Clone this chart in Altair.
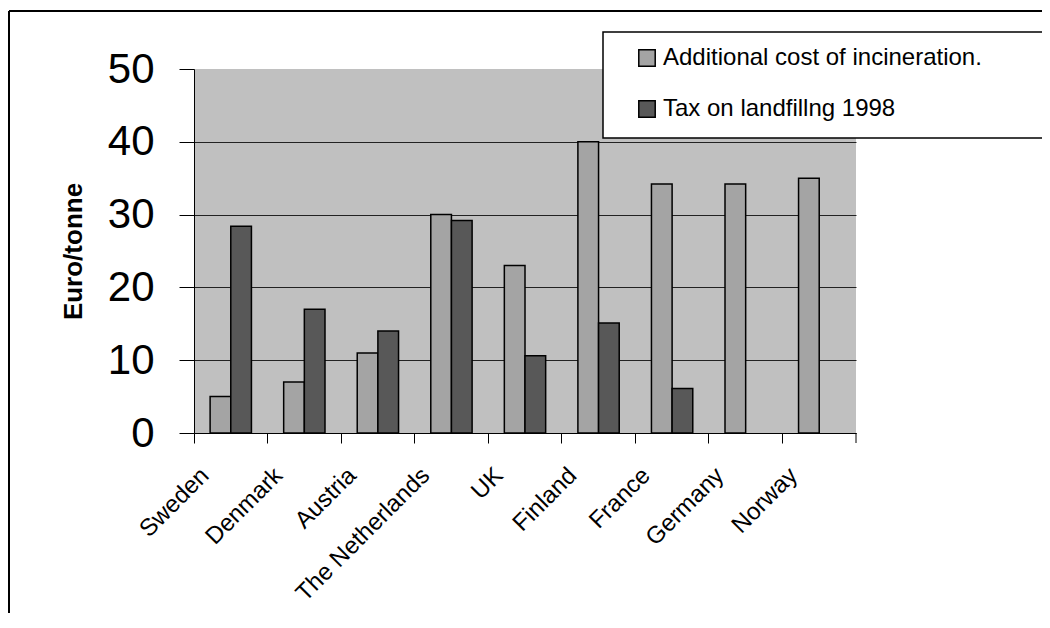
import altair as alt
import pandas as pd

countries = ["Sweden", "Denmark", "Austria", "The Netherlands", "UK",
             "Finland", "France", "Germany", "Norway"]
series_names = ["Additional cost of incineration.", "Tax on landfillng 1998"]
incineration = [5, 7, 11, 30, 23, 40, 34.2, 34.2, 35]
landfill_tax = [28.4, 17, 14, 29.2, 10.6, 15.1, 6.1, None, None]
y_ticks = [0, 10, 20, 30, 40, 50]

rows = []
for c, v in zip(countries, incineration):
    if v is not None:
        rows.append({"country": c, "series": series_names[0], "value": v})
for c, v in zip(countries, landfill_tax):
    if v is not None:
        rows.append({"country": c, "series": series_names[1], "value": v})
df = pd.DataFrame(rows)

FONT = "Liberation Sans"

bars = alt.Chart(df).mark_bar(stroke="black", strokeWidth=1.5).encode(
    x=alt.X("country:N", sort=countries,
            scale=alt.Scale(domain=countries, paddingInner=0, paddingOuter=0),
            axis=alt.Axis(title=None, labelAngle=315, labelAlign="right",
                          labelBaseline="top", labelFontSize=24, labelFont=FONT,
                          labelColor="black", bandPosition=0, tickSize=10,
                          labelOffset=-34, labelPadding=20, grid=False,
                          labelLimit=400,
                          domainColor="black", tickColor="black")),
    xOffset=alt.XOffset("series:N", sort=series_names,
                        scale=alt.Scale(domain=series_names, paddingInner=0,
                                        paddingOuter=0.78)),
    y=alt.Y("value:Q", scale=alt.Scale(domain=[0, 50]),
            axis=alt.Axis(title="Euro/tonne", values=y_ticks, tickSize=15,
                          labelFontSize=42, labelFont=FONT, labelColor="black",
                          labelPadding=25, titleFont=FONT, titleFontSize=26,
                          titleFontWeight="bold", titleColor="black",
                          titlePadding=21, domainColor="black", tickColor="black",
                          gridColor={"condition": {"test": "datum.value >= 50",
                                                   "value": "#C0C0C0"},
                                     "value": "#222222"},
                          gridWidth=1)),
    color=alt.Color("series:N",
                    scale=alt.Scale(domain=series_names, range=["#A4A4A4", "#585858"]),
                    legend=alt.Legend(title=None, orient="none", legendX=441, legendY=-23,
                                      symbolType="square", symbolSize=270,
                                      symbolStrokeColor="black", symbolStrokeWidth=1.5,
                                      labelFontSize=24, labelFont=FONT,
                                      labelColor="black", rowPadding=27,
                                      labelOffset=4, padding=0, labelLimit=600)),
)

dummy = pd.DataFrame({"a": [0]})
frame_top = alt.Chart(dummy).mark_rule(color="black", strokeWidth=2).encode(
    x=alt.value(-185), x2=alt.value(900), y=alt.value(-58))
frame_left = alt.Chart(dummy).mark_rule(color="black", strokeWidth=2).encode(
    x=alt.value(-185), y=alt.value(-58), y2=alt.value(700))
legend_box = alt.Chart(dummy).mark_rect(fill="white", stroke="black", strokeWidth=1.5).encode(
    x=alt.value(409), x2=alt.value(900), y=alt.value(-37), y2=alt.value(69))
end_tick = alt.Chart(dummy).mark_rule(color="black", strokeWidth=1).encode(
    x=alt.value(662), y=alt.value(364), y2=alt.value(374))

chart = alt.layer(bars, legend_box, end_tick, frame_top, frame_left).properties(
    width=662, height=364,
    padding={"left": 186, "top": 61, "right": 186, "bottom": 180},
    autosize=alt.AutoSizeParams(type="none"),
).configure_view(fill="#C0C0C0", strokeWidth=0)

chart.save("out.html", embed_options={"renderer": "svg", "actions": False})
